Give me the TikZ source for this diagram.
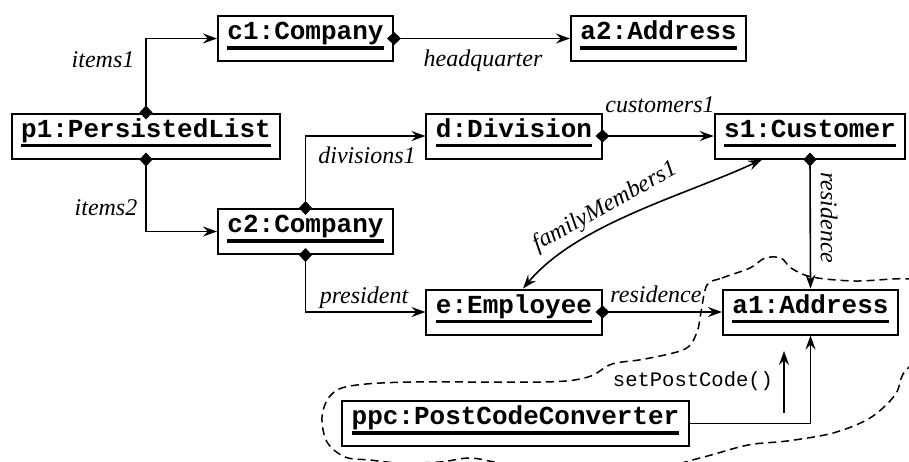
\documentclass[tikz,border=0pt]{standalone}
\usepackage{fontspec}
\setmainfont{Liberation Serif}
\setmonofont{Liberation Mono}
\usetikzlibrary{
    arrows.meta,    % For arrow tips like Stealth and Diamond
    calc            % For coordinate calculations
}

% underlined object name with a heavy rule
\newsavebox{\objbox}
\newcommand{\objname}[1]{\sbox{\objbox}{#1}\rlap{\rule[-5pt]{\wd\objbox}{1.6pt}}\usebox{\objbox}}

\begin{document}
\begin{tikzpicture}[
    x=0.5pt, y=-0.5pt,
    obj/.style={rectangle, draw, line width=1pt, inner xsep=4.75pt, inner ysep=0pt, minimum height=22.5pt, text height=8pt, text depth=7pt, font=\fontsize{13}{15}\selectfont\ttfamily\bfseries},
    lbl/.style={font=\fontsize{12}{14}\selectfont\itshape, inner sep=0pt, anchor=base},
    msg/.style={font=\fontsize{10.26}{12}\selectfont\ttfamily, inner sep=0pt, anchor=base},
    arrow/.style={-{Stealth[length=7pt, width=5pt, inset=2.5pt]}, line width=0.8pt},
    link/.style={{Diamond[length=7pt, width=6.5pt]}-{Stealth[length=7pt, width=5pt, inset=2.5pt]}, shorten <=-3.5pt, line width=0.8pt},
    twoway/.style={{Stealth[length=7pt, width=5pt, inset=2.5pt]}-{Stealth[length=7pt, width=5pt, inset=2.5pt]}, line width=0.8pt},
    region/.style={dash pattern=on 4pt off 2.5pt, line width=0.75pt}
]
    \useasboundingbox (0,0) rectangle (909,461);

    % Dashed region round the converter and the address
    \begin{scope}
        \clip (0,0) rectangle (909,461);
        \draw[region] plot[smooth cycle, tension=0.55] coordinates {
            (707,285) (722,278) (750,268) (765,258) (781,258) (791,268) (812,277)
            (855,281) (909,279) (935,290) (940,330) (918,358) (903,374) (895,395)
            (870,418) (833,433) (787,441) (748,445) (700,458) (640,472) (560,472)
            (500,463) (470,458) (440,462) (400,463) (370,460) (345,457) (327,442)
            (322,417) (330,396) (350,386) (410,382) (545,382) (588,377) (612,364)
            (645,359) (685,349) (697,332) (701,312)};
    \end{scope}

    % Objects
    \node[obj] (c1) at (305.5,38.5) {\objname{c1:Company}};
    \node[obj] (a2) at (658.5,38.5) {\objname{a2:Address}};
    \node[obj] (p1) at (146,136) {\objname{p1:PersistedList}};
    \node[obj] (d) at (514,136) {\objname{d:Division}};
    \node[obj] (s1) at (810,136) {\objname{s1:Customer}};
    \node[obj] (c2) at (305.5,231.5) {\objname{c2:Company}};
    \node[obj] (e) at (514,312) {\objname{e:Employee}};
    \node[obj] (a1) at (810.5,312) {\objname{a1:Address}};
    \node[obj] (ppc) at (515.5,423.5) {\objname{ppc:PostCodeConverter}};

    % Links
    \draw[link] (p1.north) |- (c1.west);
    \draw[link] (p1.south) |- (c2.west);
    \draw[link] (c1.east) -- (a2.west);
    \draw[link] (c2.north) |- (d.west);
    \draw[link] (c2.south) |- (e.west);
    \draw[link] (d.east) -- (s1.west);
    \draw[link] (s1.south) -- (a1.north);
    \draw[link] (e.east) -- (a1.west);
    \draw[twoway] ($(s1.south)+(-48,0)$) to[out=205, in=50, looseness=0.8] ($(e.north)+(9,0)$);
    \draw[arrow] (ppc.east) -| (a1.south);

    % Message
    \coordinate (spcfrom) at (784,413);
    \coordinate (spcto) at (784,351);
    \draw[arrow] (spcfrom) -- (spcto);

    % Link labels
    \node[lbl] (items1) at (103,67) {items1};
    \node[lbl] (items2) at (106,215) {items2};
    \node[lbl] (hq) at (483,66) {headquarter};
    \node[lbl] (div1) at (367,163) {divisions1};
    \node[lbl] (cust1) at (660,112) {customers1};
    \node[lbl, anchor=center, rotate=-90] (res1) at (829,218) {residence};
    \node[lbl, anchor=center, rotate=29] (fam1) at (605,207) {familyMembers1};
    \node[lbl] (pres) at (364,303) {president};
    \node[lbl] (res2) at (656,302) {residence};
    \node[msg] (spc) at (693,386) {setPostCode()};
\end{tikzpicture}
\end{document}
